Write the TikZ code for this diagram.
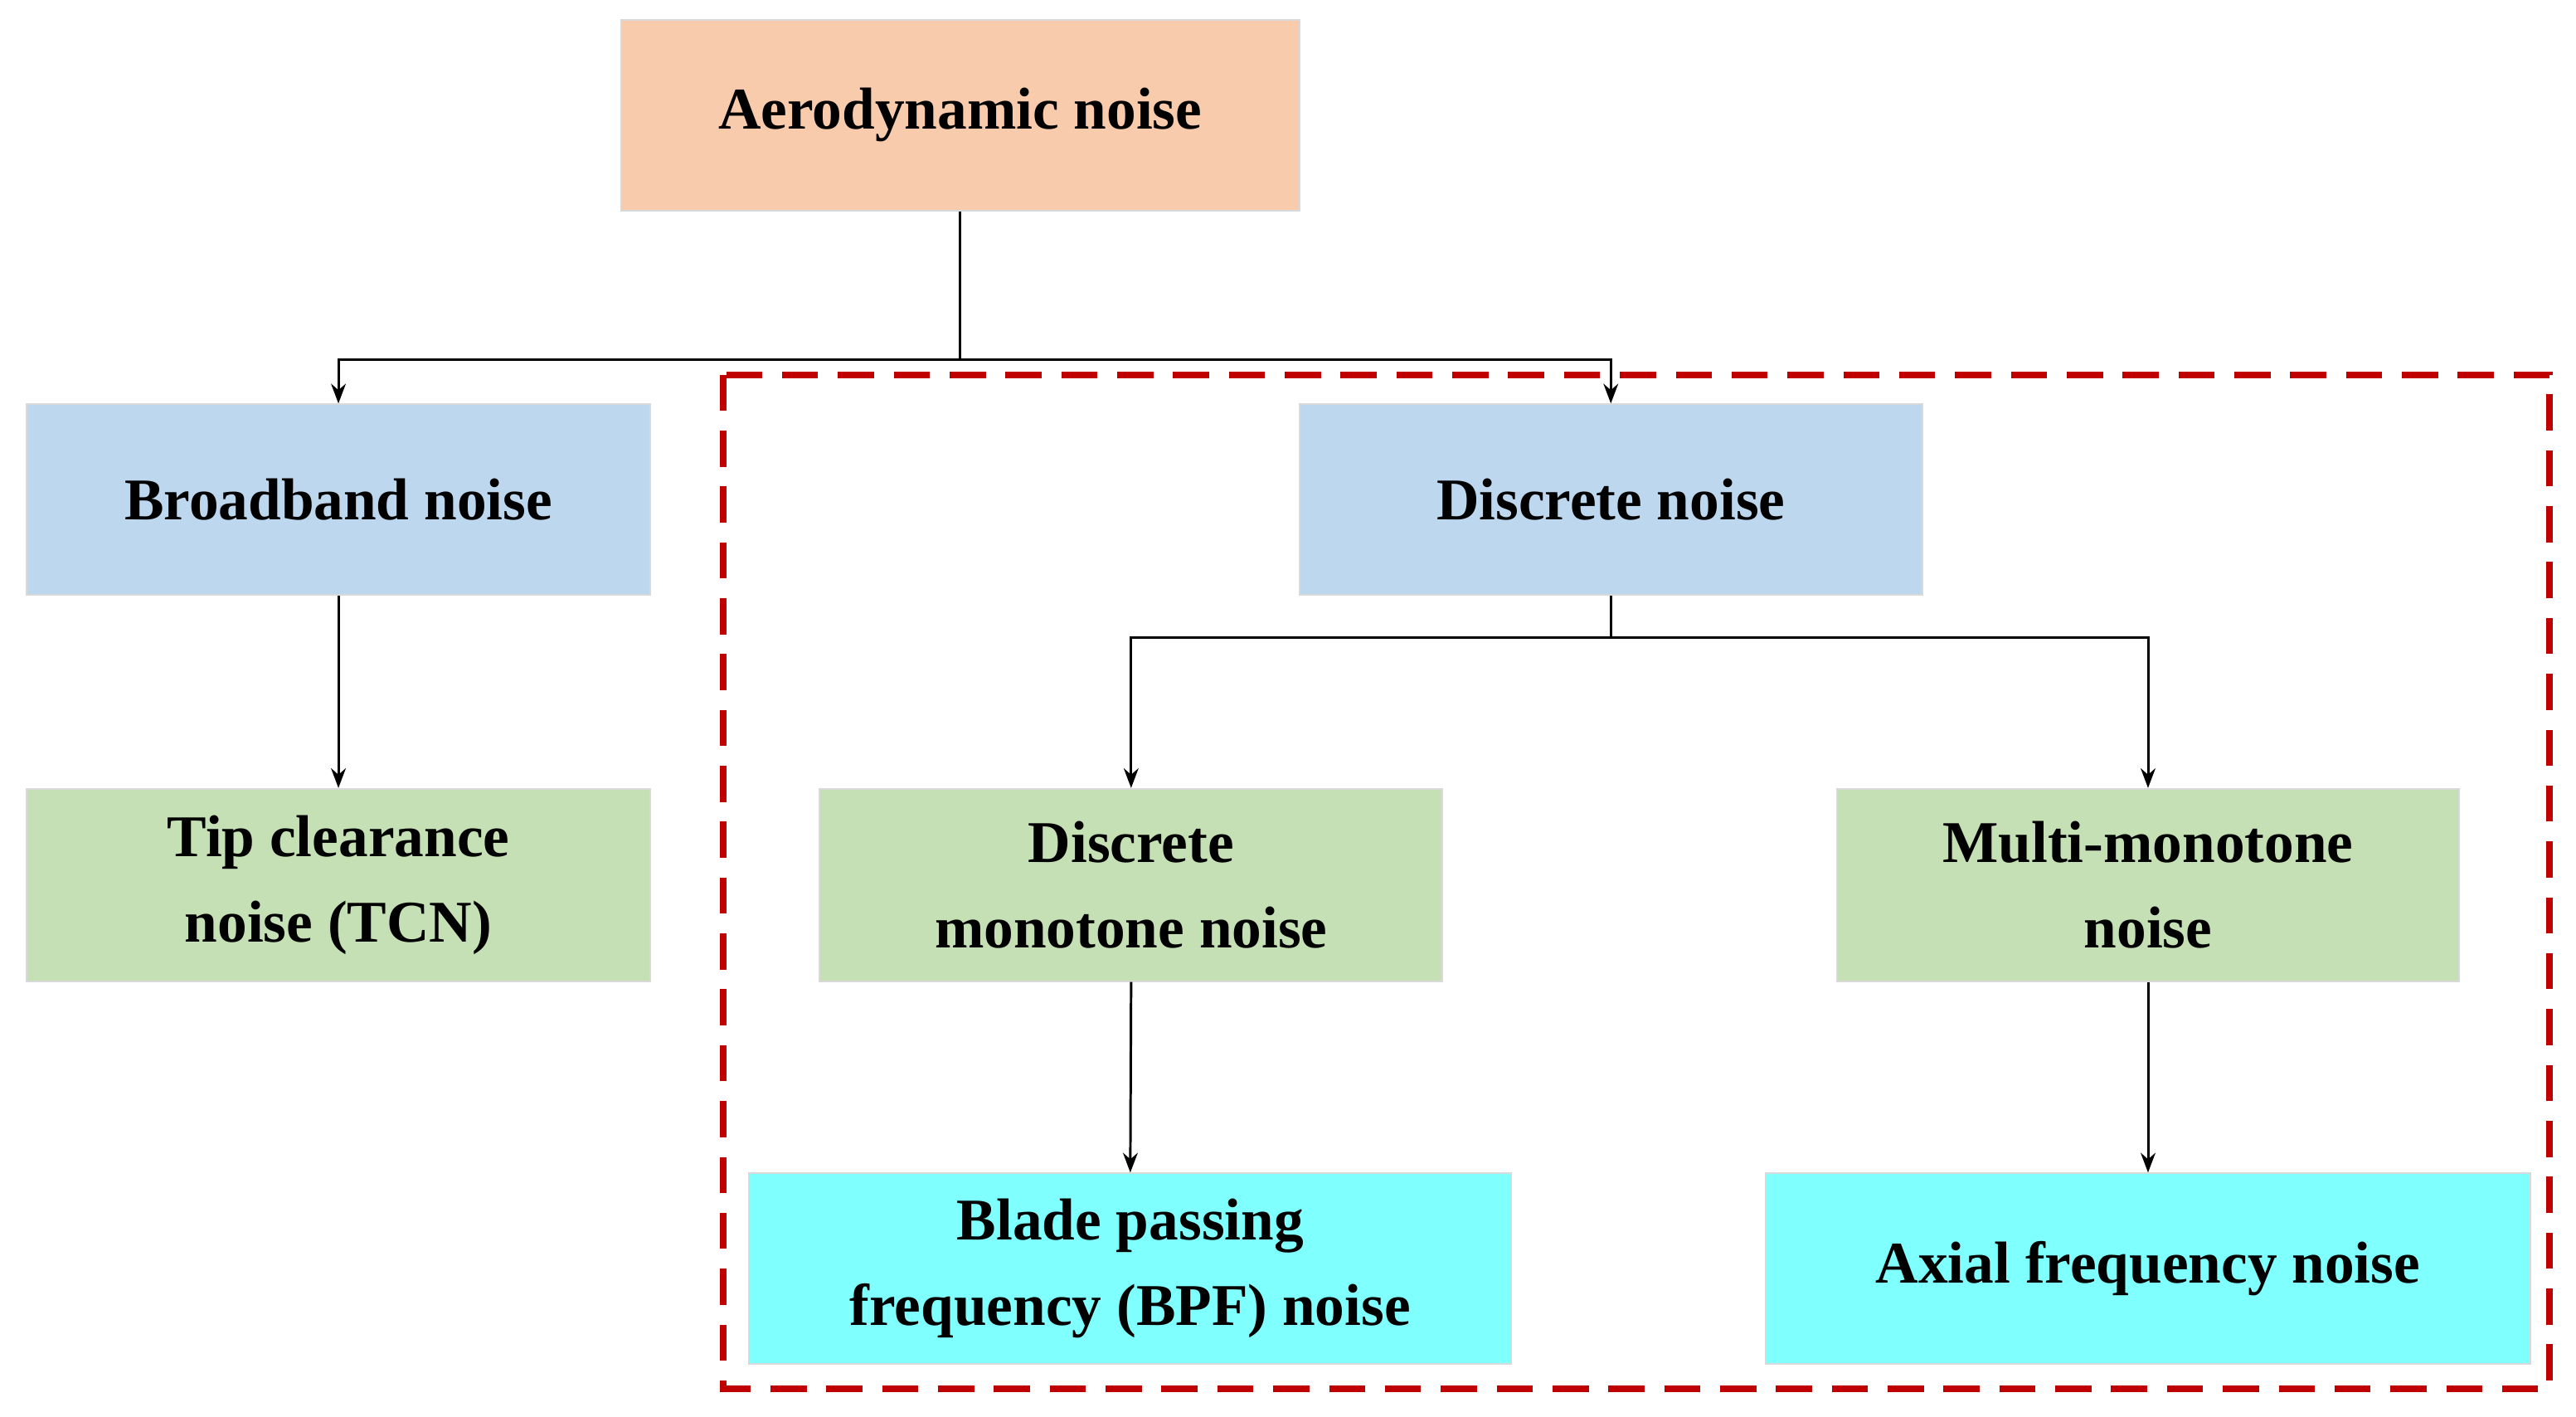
\documentclass[tikz,border=0pt]{standalone}
\usepackage{fontspec}
\setmainfont{Liberation Serif}
\usetikzlibrary{arrows.meta}
\definecolor{peach}{HTML}{F8CBAD}
\definecolor{lblue}{HTML}{BDD7EE}
\definecolor{lgreen}{HTML}{C5E0B4}
\definecolor{lcyan}{HTML}{80FFFF}
\definecolor{dred}{HTML}{C00000}
\begin{document}
\begin{tikzpicture}[x=1pt,y=-1pt,
  box/.style={draw=black!15,line width=1pt,inner sep=0pt,align=center,font=\fontsize{36}{52}\selectfont\bfseries},
  arr/.style={-{Stealth[length=12pt,width=9pt]},line width=1.5pt},
  ln/.style={line width=1.5pt}]
\useasboundingbox (0,0) rectangle (1568,862);
\fill[white] (0,0) rectangle (1568,862);
\draw[dred,line width=4pt,dash pattern=on 22pt off 12pt] (440,228) rectangle (1552,845);
\node[box,fill=peach,minimum width=413pt,minimum height=116pt] (aero) at (584.5,70) {Aerodynamic noise};
\node[box,fill=lblue,minimum width=380pt,minimum height=116pt] (broad) at (206,304) {Broadband noise};
\node[box,fill=lblue,minimum width=379pt,minimum height=116pt] (disc) at (980.5,304) {Discrete noise};
\node[box,fill=lgreen,minimum width=380pt,minimum height=117pt] (tip) at (206,538.5) {Tip clearance\\noise (TCN)};
\node[box,fill=lgreen,minimum width=379pt,minimum height=117pt] (mono) at (688.5,538.5) {Discrete\\monotone noise};
\node[box,fill=lgreen,minimum width=379pt,minimum height=117pt] (multi) at (1307.5,538.5) {Multi-monotone\\noise};
\node[box,fill=lcyan,minimum width=464pt,minimum height=116pt] (bpf) at (688,772) {Blade passing\\frequency (BPF) noise};
\node[box,fill=lcyan,minimum width=465pt,minimum height=116pt] (axial) at (1307.5,772) {Axial frequency noise};
\coordinate (j1) at (584.5,219);
\coordinate (j2) at (980.5,388);
\draw[ln] (aero.south) -- (j1);
\draw[arr] (j1) -| (broad.north);
\draw[arr] (j1) -| (disc.north);
\draw[ln] (disc.south) -- (j2);
\draw[arr] (j2) -| (mono.north);
\draw[arr] (j2) -| (multi.north);
\draw[arr] (broad.south) -- (tip.north);
\draw[arr] (mono.south) -- (bpf.north);
\draw[arr] (multi.south) -- (axial.north);
\end{tikzpicture}
\end{document}
